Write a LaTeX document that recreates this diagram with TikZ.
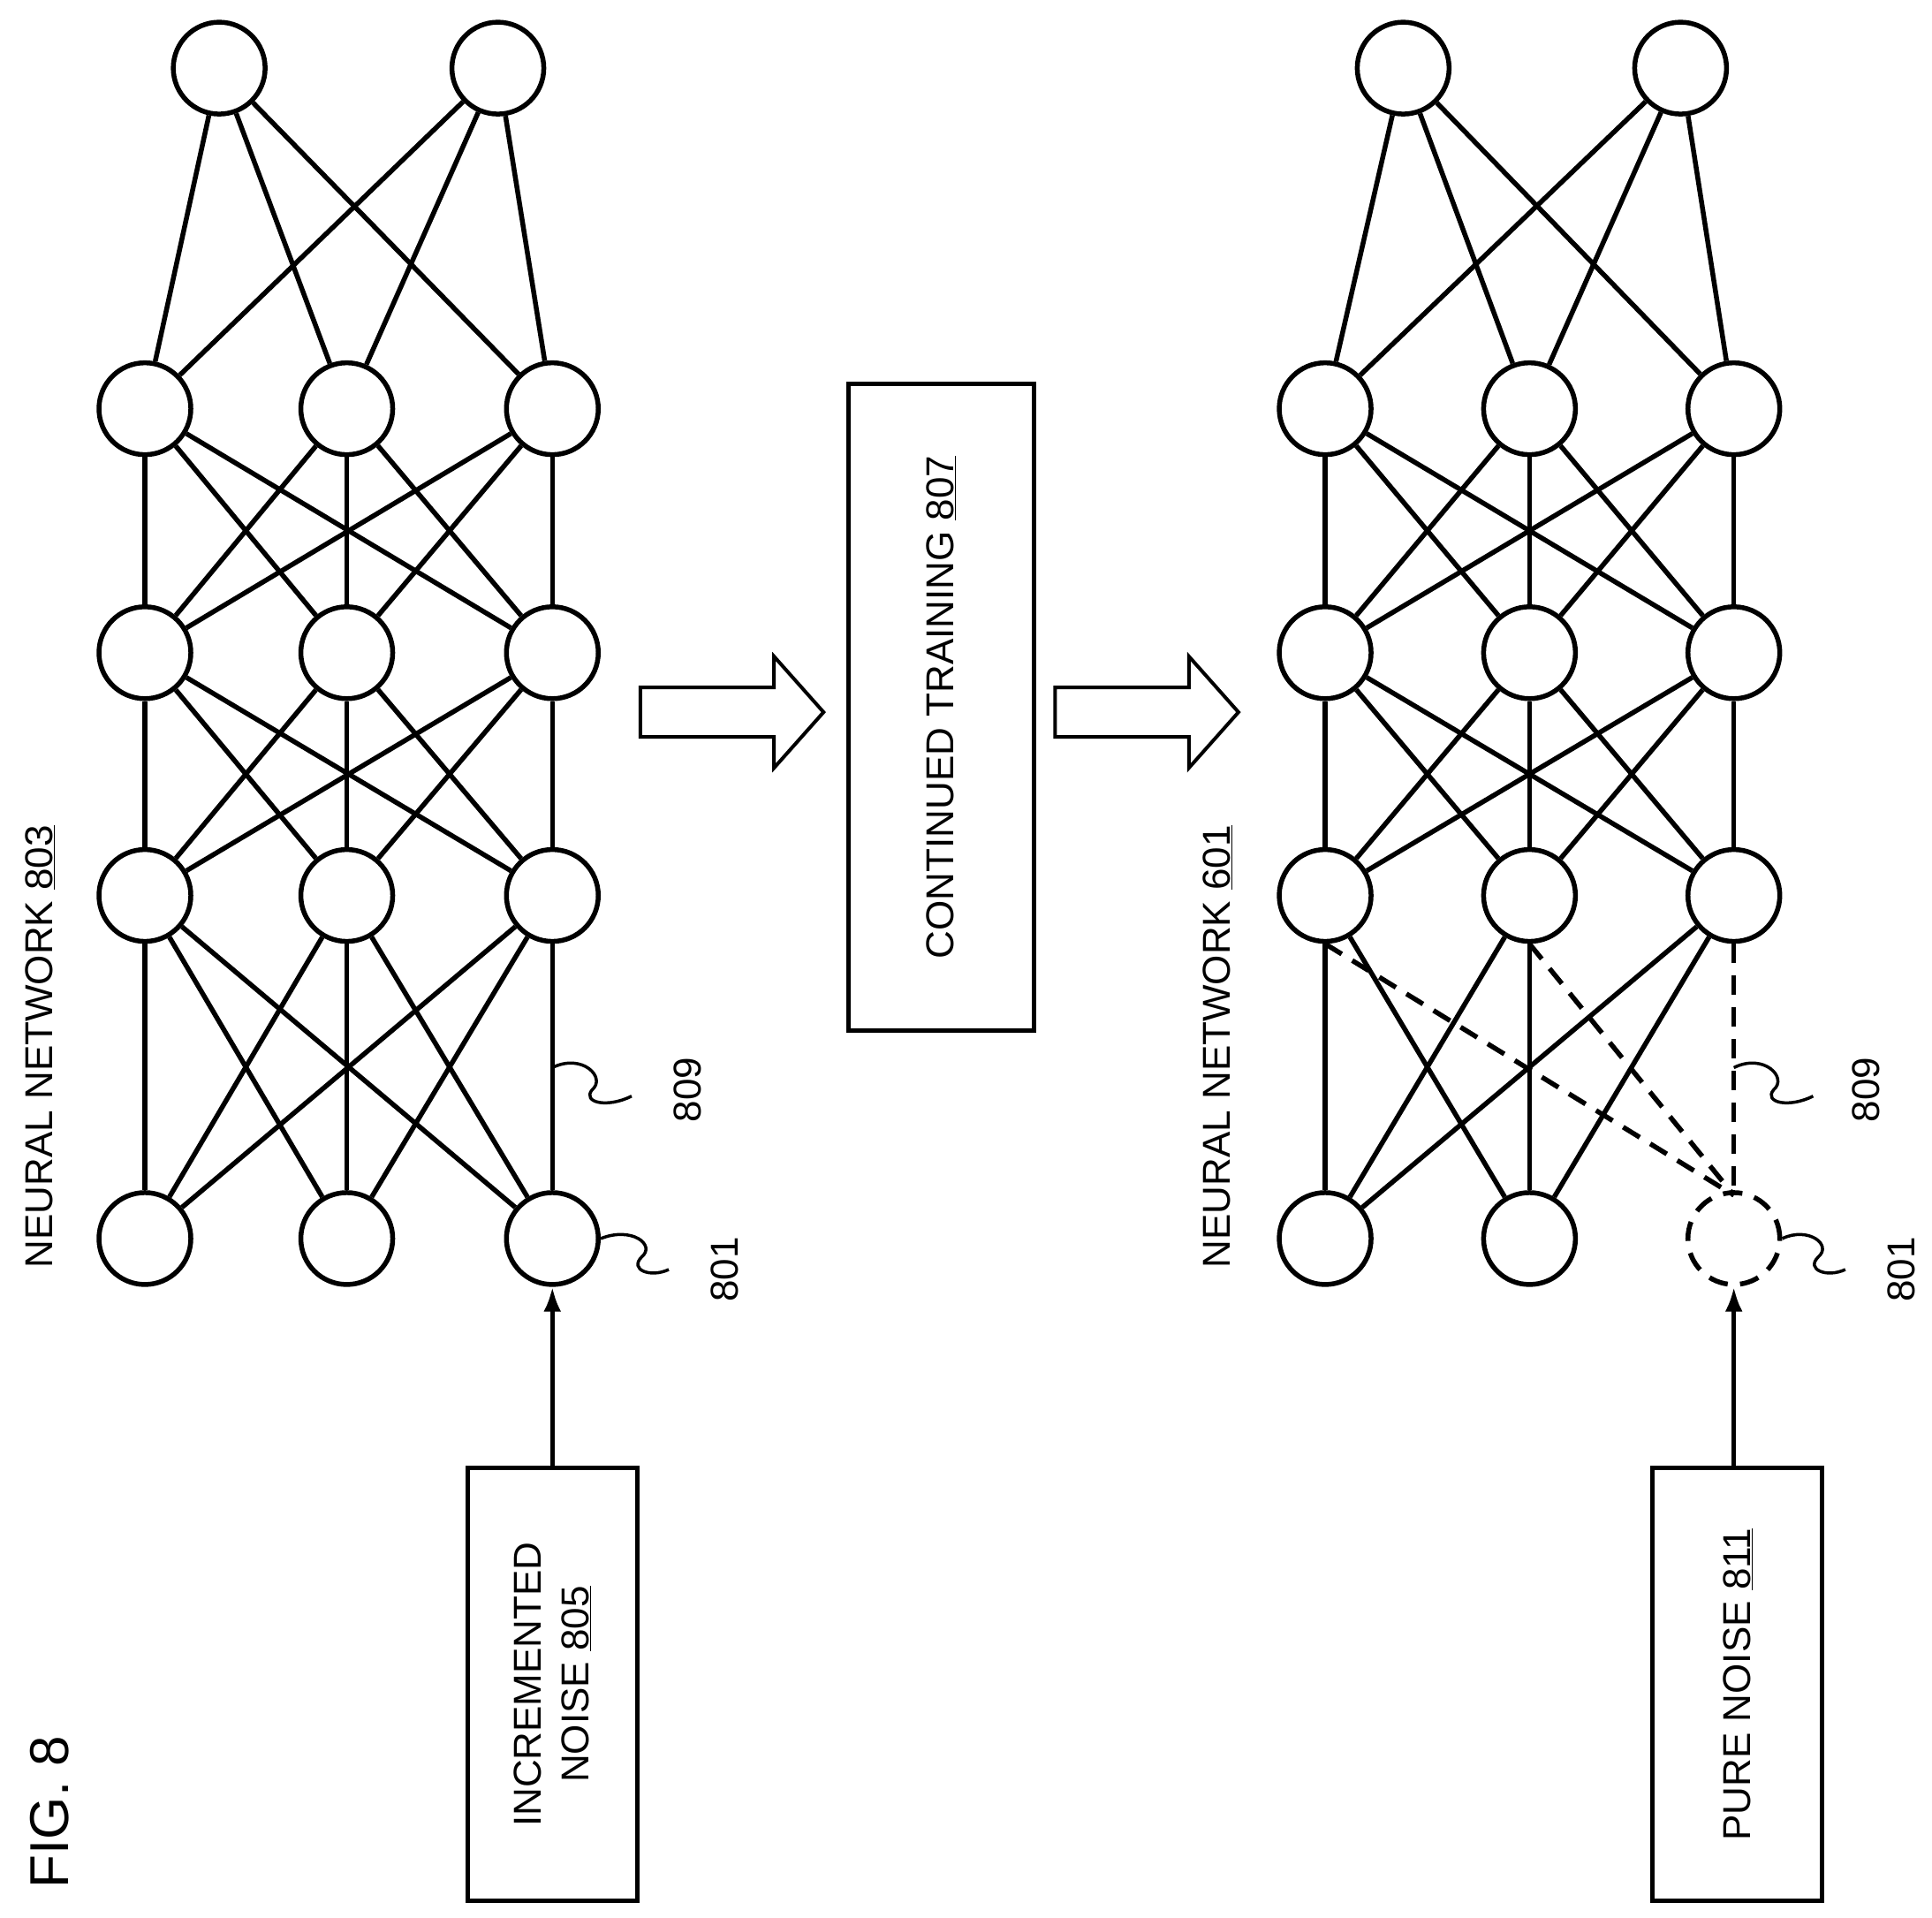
\documentclass[tikz,border=0pt]{standalone}
\usepackage{fontspec}
\setmainfont{Liberation Sans}
\usetikzlibrary{arrows.meta}
\begin{document}
\begin{tikzpicture}[x=1.402pt,y=-1.402pt,
  n/.style={circle,draw,line width=5.5pt,minimum size=104pt,inner sep=0pt},
  w/.style={line width=5.5pt},
  dsh/.style={line width=5.5pt,dash pattern=on 22pt off 14pt},
  bx/.style={draw,line width=5pt,inner sep=0pt},
  lbl/.style={font=\fontsize{44}{54}\selectfont,rotate=90},
  arr/.style={line width=5pt,-{Latex[length=28pt,width=20pt]}}]
\useasboundingbox (0,0) rectangle (1560,1548);
% left network
\foreach \i/\x in {1/177,2/402} \node[n] (La\i) at (\x,55) {};
\foreach \i/\x in {1/117,2/280,3/446}{
  \node[n] (Lb\i) at (\x,330) {};
  \node[n] (Lc\i) at (\x,527) {};
  \node[n] (Ld\i) at (\x,723) {};
  \node[n] (Le\i) at (\x,1000) {};
}
\foreach \i in {1,2} \foreach \j in {1,2,3} \draw[w] (La\i) -- (Lb\j);
\foreach \i in {1,2,3} \foreach \j in {1,2,3} {
  \draw[w] (Lb\i) -- (Lc\j);
  \draw[w] (Lc\i) -- (Ld\j);
  \draw[w] (Ld\i) -- (Le\j);
}
% right network
\foreach \i/\x in {1/1133,2/1357} \node[n] (Ra\i) at (\x,55) {};
\foreach \i/\x in {1/1070,2/1235,3/1400}{
  \node[n] (Rb\i) at (\x,330) {};
  \node[n] (Rc\i) at (\x,527) {};
  \node[n] (Rd\i) at (\x,723) {};
}
\node[n] (Re1) at (1070,1000) {};
\node[n] (Re2) at (1235,1000) {};
\node[circle,dsh,draw,minimum size=104pt,inner sep=0pt] (Re3) at (1400,1000) {};
\foreach \i in {1,2} \foreach \j in {1,2,3} \draw[w] (Ra\i) -- (Rb\j);
\foreach \i in {1,2,3} \foreach \j in {1,2,3} {
  \draw[w] (Rb\i) -- (Rc\j);
  \draw[w] (Rc\i) -- (Rd\j);
}
\foreach \i in {1,2,3} \foreach \j in {1,2} \draw[w] (Rd\i) -- (Re\j);
\coordinate (dt) at (1400,965);
\foreach \i in {1,2,3} \draw[dsh] (Rd\i.south) -- (dt);
% boxes
\node[bx,minimum width=137*1.402pt,minimum height=350*1.402pt] (N805) at (446,1360) {};
\node[lbl,align=center] at (N805) {INCREMENTED\\NOISE \underline{805}};
\node[bx,minimum width=137*1.402pt,minimum height=350*1.402pt] (N811) at (1403,1360) {};
\node[lbl] at (N811) {PURE NOISE \underline{811}};
\node[bx,minimum width=150*1.402pt,minimum height=522*1.402pt] (CT) at (760,571) {};
\node[lbl] at (CT) {CONTINUED TRAINING \underline{807}};
\draw[arr] (N805) -- (Le3);
\draw[arr] (N811.north -| Re3) -- (Re3);
% block arrows
\foreach \s in {517,852}
  \draw[line width=4pt] (\s,555) -- (\s+108,555) -- (\s+108,530) -- (\s+148,575) -- (\s+108,620) -- (\s+108,595) -- (\s,595) -- cycle;
% labels
\node[lbl] at (32,845) {NEURAL NETWORK \underline{803}};
\node[lbl] at (983,845) {NEURAL NETWORK \underline{601}};
\node[font=\fontsize{62}{70}\selectfont,rotate=90] at (40,1463) {FIG. 8};
% squiggles
\draw[line width=3.5pt] (446,862) .. controls (470,850) and (490,870) .. (478,880) .. controls (470,890) and (490,895) .. (510,885);
\node[lbl] at (555,880) {809};
\draw[line width=3.5pt] (Le3.east) .. controls (510,990) and (530,1005) .. (518,1015) .. controls (508,1025) and (525,1032) .. (540,1025);
\node[lbl] at (585,1025) {801};
\draw[line width=3.5pt] (1400,862) .. controls (1424,850) and (1444,870) .. (1432,880) .. controls (1424,890) and (1444,895) .. (1464,885);
\node[lbl] at (1507,880) {809};
\draw[line width=3.5pt] (Re3.east) .. controls (1460,990) and (1480,1005) .. (1468,1015) .. controls (1458,1025) and (1475,1032) .. (1490,1025);
\node[lbl] at (1535,1025) {801};
\end{tikzpicture}
\end{document}
